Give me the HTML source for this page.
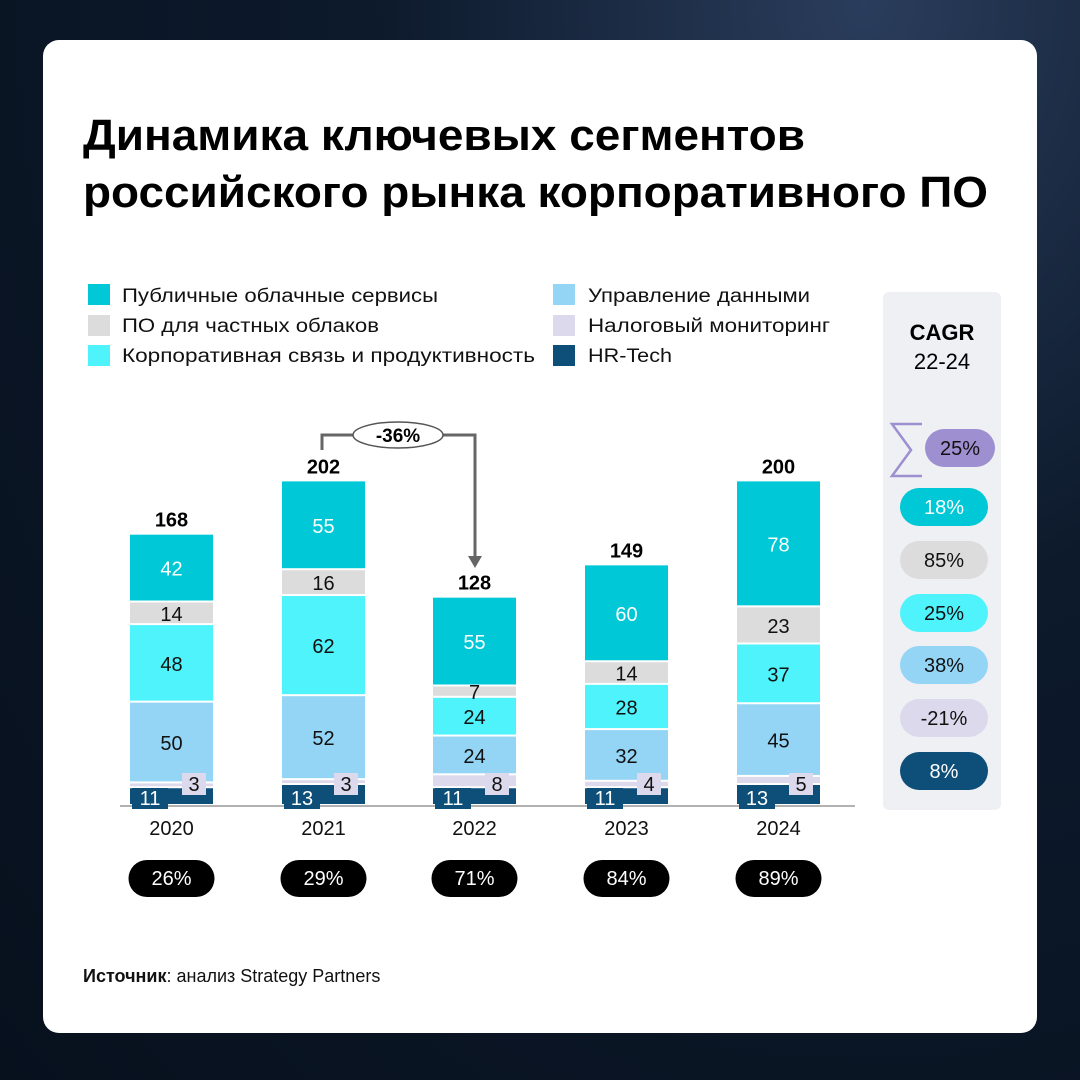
<!DOCTYPE html>
<html><head><meta charset="utf-8"><style>
html,body{margin:0;padding:0;}
body{width:1080px;height:1080px;background:radial-gradient(ellipse at 80% 0%,#2a3d5c 0%,#0d1a2c 40%,#07101d 100%);position:relative;overflow:hidden;font-family:"Liberation Sans","DejaVu Sans",sans-serif;}
.card{position:absolute;left:43px;top:40px;width:994px;height:993px;background:#fff;border-radius:16px;}
svg{position:absolute;left:0;top:0;}
</style></head><body>
<div class="card"></div>
<svg id="s" width="1080" height="1080" viewBox="0 0 1080 1080" font-family="Liberation Sans, DejaVu Sans, sans-serif">
<text x="83" y="150" font-size="44" font-weight="bold" fill="#000" textLength="722" lengthAdjust="spacingAndGlyphs">Динамика ключевых сегментов</text>
<text x="83" y="207" font-size="44" font-weight="bold" fill="#000" textLength="905" lengthAdjust="spacingAndGlyphs">российского рынка корпоративного ПО</text>
<g font-size="19" fill="#111">
<rect x="88" y="284" width="22" height="21" fill="#00c8d6"/><text x="122" y="302" textLength="316" lengthAdjust="spacingAndGlyphs">Публичные облачные сервисы</text>
<rect x="88" y="315" width="22" height="21" fill="#dcdcdc"/><text x="122" y="332" textLength="257" lengthAdjust="spacingAndGlyphs">ПО для частных облаков</text>
<rect x="88" y="345" width="22" height="21" fill="#4ff3fb"/><text x="122" y="362" textLength="413" lengthAdjust="spacingAndGlyphs">Корпоративная связь и продуктивность</text>
<rect x="553" y="284" width="22" height="21" fill="#94d5f5"/><text x="588" y="302" textLength="222" lengthAdjust="spacingAndGlyphs">Управление данными</text>
<rect x="553" y="315" width="22" height="21" fill="#dcd9ec"/><text x="588" y="332" textLength="242" lengthAdjust="spacingAndGlyphs">Налоговый мониторинг</text>
<rect x="553" y="345" width="22" height="21" fill="#0e4f7a"/><text x="588" y="362" textLength="84" lengthAdjust="spacingAndGlyphs">HR-Tech</text>
</g>
<rect x="883" y="292" width="118" height="518" rx="6" fill="#eff0f4"/>
<text x="942" y="340" font-size="22" font-weight="bold" text-anchor="middle">CAGR</text>
<text x="942" y="369" font-size="22" text-anchor="middle">22-24</text>
<path d="M922 424 H892 L911 450 L892 476 H922" fill="none" stroke="#9d8fd0" stroke-width="2.5"/>
<line x1="120" y1="806" x2="855" y2="806" stroke="#999" stroke-width="1.5"/>
<g id="bars"></g>
<path d="M322 450 V435 H475 V560" fill="none" stroke="#666" stroke-width="3"/>
<path d="M468 556 L475 568 L482 556 Z" fill="#666"/>
<ellipse cx="398" cy="435" rx="45" ry="13" fill="#fff" stroke="#555" stroke-width="1.5"/>
<text x="398" y="442" font-size="19" font-weight="bold" text-anchor="middle">-36%</text>
<text x="83" y="982" font-size="18" fill="#111"><tspan font-weight="bold">Источник</tspan>: анализ Strategy Partners</text>
</svg>
<script>
var g=document.getElementById('bars'),ns='http://www.w3.org/2000/svg';
function el(t,a,txt){var e=document.createElementNS(ns,t);for(var k in a)e.setAttribute(k,a[k]);if(txt!=null)e.textContent=txt;g.appendChild(e);return e;}
var cols=['#0e4f7a','#dcd9ec','#94d5f5','#4ff3fb','#dcdcdc','#00c8d6'];
var data=[[11,3,50,48,14,42],[13,3,52,62,16,55],[11,8,24,24,7,55],[11,4,32,28,14,60],[13,5,45,37,23,78]];
var tot=[168,202,128,149,200];
var xs=[130,282,433,585,737],yrs=['2020','2021','2022','2023','2024'],pct=['26%','29%','71%','84%','89%'];
var s=1.615,base=806,w=83;
data.forEach(function(d,i){var x=xs[i],cum=0,cx=x+w/2;
 d.forEach(function(v,j){var y0=base-cum*s;cum+=v;var y1=base-cum*s;
  el('rect',{x:x,y:y1,width:w,height:Math.max(y0-y1-2,1),fill:cols[j]});
  if(j>=2){el('text',{x:cx,y:(y0+y1)/2+7,'font-size':20,'text-anchor':'middle',fill:j==5?'#fff':'#111'},v);}
 });
 el('rect',{x:x+2,y:788,width:36,height:21,fill:'#0e4f7a'});
 el('text',{x:x+20,y:805,'font-size':20,'text-anchor':'middle',fill:'#fff'},d[0]);
 el('rect',{x:x+52,y:773,width:24,height:22,fill:'#dcd9ec'});
 el('text',{x:x+64,y:791,'font-size':20,'text-anchor':'middle',fill:'#111'},d[1]);
 el('text',{x:cx,y:base-cum*s-8,'font-size':20,'font-weight':'bold','text-anchor':'middle'},tot[i]);
 el('text',{x:cx,y:835,'font-size':20,'text-anchor':'middle',fill:'#111'},yrs[i]);
 el('rect',{x:cx-43,y:860,width:86,height:37,rx:18.5,fill:'#000'});
 el('text',{x:cx,y:885,'font-size':20,'text-anchor':'middle',fill:'#fff'},pct[i]);
});
var cg=[['25%','#9d8fd0','#111',960,448,70],['18%','#00c8d6','#fff',944,507,88],['85%','#dcdcdc','#111',944,560,88],['25%','#4ff3fb','#111',944,613,88],['38%','#94d5f5','#111',944,665,88],['-21%','#dcd9ec','#111',944,718,88],['8%','#0e4f7a','#fff',944,771,88]];
cg.forEach(function(c){el('rect',{x:c[3]-c[5]/2,y:c[4]-19,width:c[5],height:38,rx:19,fill:c[1]});
 el('text',{x:c[3],y:c[4]+7,'font-size':20,'text-anchor':'middle',fill:c[2]},c[0]);});
</script>
</body></html>
